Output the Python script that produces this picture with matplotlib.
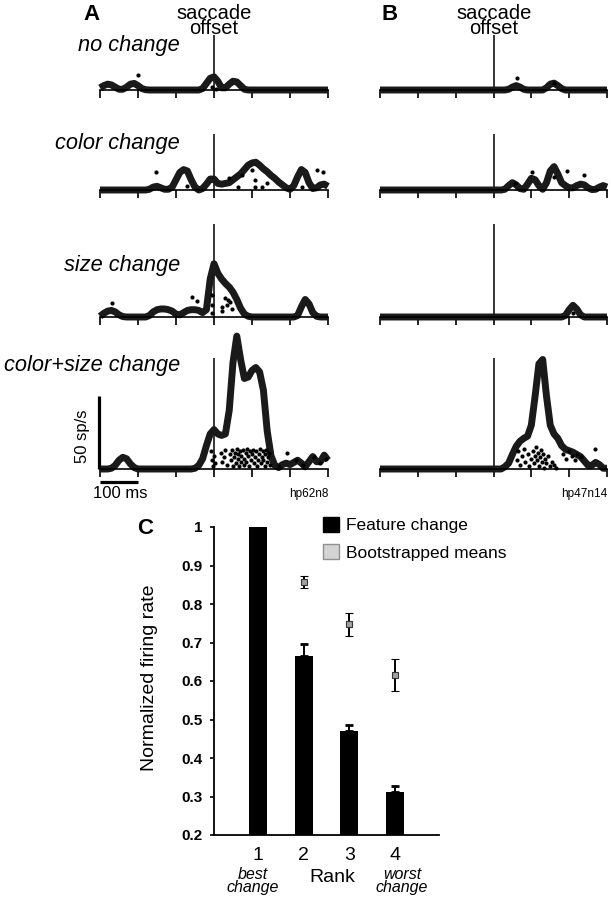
import numpy as np
import matplotlib
matplotlib.use('Agg')
import matplotlib.pyplot as plt
from matplotlib.patches import Patch

plt.rcParams['font.family'] = ['Liberation Sans', 'DejaVu Sans']

### PSTH data: time axis (ms, relative to saccade offset), firing rate in sp/s
### one line of each list = 100 ms (10 ms steps), last value = +300 ms
t = np.arange(-300, 301, 10)
Z = [0] * 10

noA = ([1.5, 3, 4, 3.5, 2, 0.5, 0.5, 2, 4, 4.5] +
       [3, 1, 0.2, 0, 0, 0, 0, 0, 0, 0] +
       [0, 0, 0, 0, 0, 0, 0, 1, 4.5, 8] +
       [9, 6, 1.5, 1.5, 4, 6, 5.5, 3, 0.5, 0] +
       Z + Z + [0])
noB = (Z + Z + Z +
       [0, 0, 0, 0, 0.5, 2, 3, 2, 0.5, 0] +
       [0, 0, 0, 0, 1.5, 4, 4.7, 3, 1, 0] +
       Z + [0])
colA = (Z +
        [0, 0, 0, 0.5, 2, 2.5, 1.5, 0.5, 0.5, 2] +
        [7, 12, 14, 13, 7, 2, 0, 1, 4, 7.5] +
        [7.5, 4.5, 4, 4.5, 5, 7, 9, 11, 14, 17] +
        [18.5, 19, 17, 14.5, 12.5, 10, 8, 5.5, 3.5, 1.5] +
        [0.5, 3, 9, 14, 12, 5, 1, 1.5, 3.5, 4] + [2.5])
colB = (Z + Z + Z +
        [0, 0, 0, 0.5, 3, 5, 3.5, 1, 0.5, 4] +
        [8, 7, 3, 0.5, 5, 13, 16, 11, 5, 3] +
        [1.5, 1.5, 3, 4, 3.5, 1.5, 0.3, 0.5, 2, 3] + [2])
sizA = ([0.5, 2.5, 4, 4.5, 3.5, 1.5, 0.3, 0, 0, 0] +
        [0, 0, 0, 1, 3.5, 5, 5.5, 5.5, 5, 4] +
        [2, 1.5, 3, 4.5, 5, 5, 4.5, 3, 5, 26] +
        [36.5, 30, 26, 23, 20.5, 17, 12, 6, 2, 0.5] +
        Z +
        [0, 0, 1, 7, 12, 9, 3, 0.5, 0, 0] + [0])
sizB = (Z + Z + Z + Z +
        [0, 0, 0, 0, 0, 0, 0, 0, 0, 1] +
        [5, 8, 5.5, 1.5, 0, 0, 0, 0, 0, 0] + [0])
bothA = ([0, 0, 0, 0.5, 2.5, 6, 8, 7, 3.5, 1] +
         Z +
         [0, 0, 0, 0, 0, 0.5, 2.5, 7, 16, 24] +
         [27, 24, 23, 24, 40, 73, 91, 75, 62, 63] +
         [67.5, 69.5, 66.5, 54, 26, 9, 2.5, 1, 3, 4] +
         [3, 4.5, 6, 4, 1.5, 5, 8.5, 5, 5, 9.5] + [6])
bothB = (Z + Z + Z +
         [0, 0, 0, 1.5, 4, 10, 15.5, 19, 21, 22.5] +
         [30, 50, 72, 75, 50, 30, 24, 21, 16, 13.5] +
         [12.5, 11.5, 10, 8.5, 5.5, 2.5, 2.5, 4.5, 3, 0.5] + [0.5])

### raster dots: spike time (ms) and position above baseline (sp/s units)
dotA1_t = [-200, -5, 5]
dotA1_y = [10, 2, 1]
dotB1_t = [61, 160]
dotB1_y = [8, 5]
dotA2_t = [-153, -71, 40, 63, 74, 100, 108, 108, 126, 139, 232, 271, 287]
dotA2_y = [12, 3, 8, 2, 10, 14, 7, 2, 2, 5, 2, 14, 12]
dotB2_t = [58, 103, 160, 195, 240]
dotB2_y = [5, 12, 9, 13, 10]
dotA3_t = [-268, -58, -45, -5, -5, -5, 21, 29, 37, 47, 21, 34, 42]
dotA3_y = [9.6, 13.7, 11, 15, 8, 3, 6.8, 13, 11.6, 5.5, 4, 8, 10]
dotB3_t = [209]
dotB3_y = [3]
dotA4_t = [-8, -5, -3, 0, 2, 18, 22, 26, 30, 33, 42, 45, 48, 50, 53, 55, 57, 60, 62, 64, 66, 68, 70, 72,
           76, 78, 80, 83, 85, 88, 90, 92, 95, 97, 100, 102, 105, 108, 110, 113, 115, 118, 120, 123, 125,
           128, 130, 133, 135, 138, 140, 143, 146, 148, 170, 192, 215, 235, 262, 280, 295]
dotA4_y = [12, 6, 2, 9, 4, 11, 5, 8, 13, 3, 10, 6, 13, 2, 8, 11, 4, 14, 7, 10, 2, 12, 5, 9,
           13, 3, 7, 11, 5, 14, 9, 2, 12, 6, 10, 13, 4, 8, 12, 2, 6, 10, 14, 4, 8,
           12, 6, 2, 10, 13, 5, 8, 11, 3, 2, 11, 6, 3, 8, 4, 7]
dotB4_t = [62, 66, 70, 75, 80, 84, 90, 95, 100, 104, 108, 110, 112, 115, 118, 120, 122, 125, 128, 130,
           133, 136, 140, 145, 150, 155, 160, 165, 185, 192, 200, 208, 215, 222, 230, 268]
dotB4_y = [6, 12, 3, 9, 14, 5, 10, 2, 7, 12, 4, 9, 15, 6, 11, 2, 8, 13, 5, 10,
           1, 7, 4, 9, 2, 5, 3, 1, 10, 7, 12, 9, 6, 10, 8, 14]

row_labels = ['no change', 'color change', 'size change', 'color+size change']

### panel C data
ranks = [1, 2, 3, 4]
feat = [1.0, 0.666, 0.470, 0.312]
feat_err = [0.0, 0.029, 0.016, 0.016]
boot_x = [2, 3, 4]
boot = [0.857, 0.747, 0.616]
boot_err = [0.015, 0.029, 0.041]

W, H = 611, 900
fig = plt.figure(figsize=(W / 100, H / 100), dpi=100)


def px_axes(x0, y0, x1, y1):
    return fig.add_axes([x0 / W, 1 - y1 / H, (x1 - x0) / W, (y1 - y0) / H])


def ftext(x, y, s, **kw):
    fig.text(x / W, 1 - y / H, s, **kw)


PX = 73 / 50.0  # pixels per sp/s
bases = [90, 190, 317, 469]
tops = [35, 134, 224, 358]
curvesA = [noA, colA, sizA, bothA]
curvesB = [noB, colB, sizB, bothB]
dotsA = [(dotA1_t, dotA1_y), (dotA2_t, dotA2_y), (dotA3_t, dotA3_y), (dotA4_t, dotA4_y)]
dotsB = [(dotB1_t, dotB1_y), (dotB2_t, dotB2_y), (dotB3_t, dotB3_y), (dotB4_t, dotB4_y)]

axes_A = []
for r in range(4):
    for (x0, x1), curves, dots in [((100, 328), curvesA, dotsA), ((380, 607), curvesB, dotsB)]:
        ax = px_axes(x0, tops[r], x1, bases[r])
        ax.set_xlim(-300, 300)
        ax.set_ylim(0, (bases[r] - tops[r]) / PX)
        for s in ['top', 'right', 'left']:
            ax.spines[s].set_visible(False)
        ax.spines['bottom'].set_linewidth(1.2)
        ax.set_xticks(range(-300, 301, 100))
        ax.set_xticklabels([])
        ax.set_yticks([])
        ax.tick_params(axis='x', direction='out', length=6, width=1.2)
        ax.axvline(0, color='k', lw=1.1)
        ax.plot(t, curves[r], color='#1a1a1a', lw=5, clip_on=False,
                solid_capstyle='butt', solid_joinstyle='round', zorder=2)
        ax.plot(dots[r][0], dots[r][1], 'o', color='k', ms=3, mew=0, clip_on=False, zorder=3)
        if x0 == 100:
            axes_A.append(ax)
    ftext(180, [46, 144, 265, 365][r], row_labels[r], ha='right', va='center',
          fontsize=15.7, style='italic')

### scale bars in the bottom row of panel A
axs = axes_A[3]
axs.plot([-303, -303], [0, 50], color='k', lw=2.3, clip_on=False, solid_capstyle='butt')
axs.plot([-300, -200], [-13 / PX, -13 / PX], color='k', lw=2.3, clip_on=False, solid_capstyle='butt')
ftext(82, 436, '50 sp/s', rotation=90, ha='center', va='center', fontsize=12)
ftext(120, 494, '100 ms', ha='center', va='center', fontsize=12)
ftext(328, 494, 'hp62n8', ha='right', va='center', fontsize=8.5)
ftext(607, 494, 'hp47n14', ha='right', va='center', fontsize=8.5)

ftext(92, 15, 'A', ha='center', va='center', fontsize=16, weight='bold')
ftext(390, 15, 'B', ha='center', va='center', fontsize=16, weight='bold')
ftext(214, 21, 'saccade\noffset', ha='center', va='center', fontsize=14.5, linespacing=0.76)
ftext(494, 21, 'saccade\noffset', ha='center', va='center', fontsize=14.5, linespacing=0.76)

### panel C
axc = px_axes(214, 527, 439, 835)
axc.bar(ranks, feat, width=0.4, color='black', bottom=0, zorder=2)
axc.errorbar(ranks[1:], feat[1:], yerr=[[0, 0, 0], feat_err[1:]], fmt='none', ecolor='k',
             elinewidth=1.4, capsize=3, capthick=2, zorder=1)
axc.errorbar(boot_x, boot, yerr=boot_err, fmt='s', ms=4, mfc='#a0a0a0', mec='#333333', mew=0.8,
             ecolor='k', elinewidth=1.4, capsize=3, capthick=2, zorder=3)
axc.set_xlim(0.03, 4.97)
axc.set_ylim(0.2, 1.0)
for s in ['top', 'right']:
    axc.spines[s].set_visible(False)
axc.spines['left'].set_linewidth(1.3)
axc.spines['bottom'].set_linewidth(1.3)
yt = [0.2, 0.3, 0.4, 0.5, 0.6, 0.7, 0.8, 0.9, 1.0]
axc.set_yticks(yt)
axc.set_yticklabels(['%g' % v for v in yt], fontsize=11, weight='bold')
axc.tick_params(axis='y', direction='out', length=3, width=1.2, pad=5)
axc.set_xticks(ranks)
axc.set_xticklabels([str(r) for r in ranks], fontsize=14)
axc.tick_params(axis='x', length=0, pad=9)

ftext(150, 678, 'Normalized firing rate', rotation=90, ha='center', va='center', fontsize=14)
ftext(332, 877, 'Rank', ha='center', va='center', fontsize=14)
ftext(253, 881, 'best\nchange', ha='center', va='center', fontsize=11.5, style='italic', linespacing=0.85)
ftext(402, 881, 'worst\nchange', ha='center', va='center', fontsize=11.5, style='italic', linespacing=0.85)
ftext(145, 528, 'C', ha='center', va='center', fontsize=16, weight='bold')

handles = [Patch(facecolor='black', edgecolor='black'),
           Patch(facecolor='#d4d4d4', edgecolor='#909090')]
fig.legend(handles, ['Feature change', 'Bootstrapped means'], loc='upper left',
           bbox_to_anchor=(323 / W, 1 - 517 / H), frameon=False, fontsize=12.5,
           handlelength=0.95, handleheight=0.95, handletextpad=0.4, labelspacing=0.62,
           borderpad=0, borderaxespad=0)

fig.savefig('out.png', dpi=100)
